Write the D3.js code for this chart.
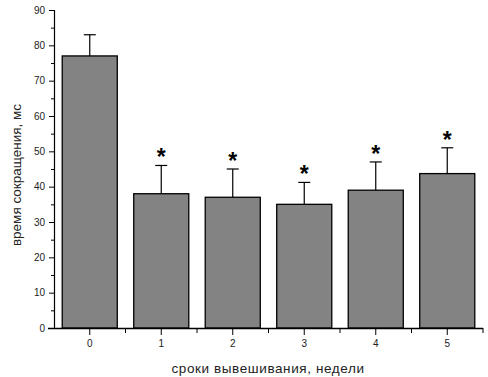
<!DOCTYPE html>
<html><head><meta charset="utf-8">
<script src="https://cdn.jsdelivr.net/npm/d3@7"></script>
<style>body{margin:0;background:#fff}svg{display:block}text{font-family:Arial,"Liberation Sans",sans-serif}</style>
</head><body><svg id="c" width="488" height="377"></svg>
<script>
const categories = ["0","1","2","3","4","5"];
const means = [77, 38, 37, 35, 39, 43.7];
const errors = [6, 8, 8, 6.2, 8, 7.3];
const significant = [false, true, true, true, true, true];
const yTicks = [0,10,20,30,40,50,60,70,80,90];
const yLabel = "время сокращения, мс";
const xLabel = "сроки вывешивания, недели";

const svg = d3.select("#c");
const x = d3.scaleBand().domain(categories).range([54, 483]).paddingInner(0.23).paddingOuter(0.115);
const y = d3.scaleLinear().domain([0, 90]).range([328, 10]);

// bars
svg.selectAll("rect.bar").data(means).join("rect")
  .attr("x", (d,i) => x(categories[i]))
  .attr("y", d => y(d))
  .attr("width", x.bandwidth())
  .attr("height", d => y(0) - y(d))
  .attr("fill", "#838383").attr("stroke", "#000").attr("stroke-width", 1.3);

// error bars
const cap = 12;
svg.selectAll("g.err").data(means).join("g").each(function(d,i){
  const cx = x(categories[i]) + x.bandwidth()/2;
  const g = d3.select(this);
  g.append("line").attr("x1", cx).attr("x2", cx).attr("y1", y(d)).attr("y2", y(d + errors[i])).attr("stroke","#000").attr("stroke-width",1.2);
  g.append("line").attr("x1", cx-cap/2).attr("x2", cx+cap/2).attr("y1", y(d + errors[i])).attr("y2", y(d + errors[i])).attr("stroke","#000").attr("stroke-width",1.2);
  if (significant[i]) g.append("text").attr("x", cx).attr("y", y(d + errors[i]) - 0).attr("text-anchor","middle")
     .attr("font-size", 23).attr("font-weight","bold").text("*");
});

// y axis
const yAxis = svg.append("g").attr("transform","translate(54,0)")
  .call(d3.axisLeft(y).tickValues(yTicks).tickSize(5).tickPadding(4).tickFormat(d3.format("d")));
yAxis.select(".domain").attr("stroke","#000").attr("stroke-width",1.2);
yAxis.selectAll(".tick text").attr("font-size",10).attr("fill","#222").attr("font-family","Arial, Liberation Sans, sans-serif");
svg.append("g").attr("transform","translate(54,0)")
  .call(d3.axisLeft(y).tickValues(d3.range(5, 90, 10)).tickSize(3).tickFormat(""))
  .select(".domain").remove();

// x axis
const xAxis = svg.append("g").attr("transform","translate(0,328)")
  .call(d3.axisBottom(x).tickSize(7).tickSizeOuter(0).tickPadding(5));
xAxis.select(".domain").attr("stroke","#000").attr("stroke-width",1.5).attr("d","M48,0.5H483");
xAxis.selectAll(".tick text").attr("font-size",10).attr("fill","#222").attr("font-family","Arial, Liberation Sans, sans-serif");
const step = x.step();
const bounds = categories.map((c,i) => x(c) + x.bandwidth()/2 + step/2);
svg.append("g").selectAll("line").data(bounds).join("line")
  .attr("x1", d=>d).attr("x2", d=>d).attr("y1", 328).attr("y2", 333).attr("stroke","#000");

// labels
svg.append("text").attr("transform","translate(21,175) rotate(-90)").attr("text-anchor","middle")
  .attr("font-size",13.5).attr("fill","#222").text(yLabel);
svg.append("text").attr("x",268).attr("y",373).attr("text-anchor","middle")
  .attr("font-size",13.5).attr("fill","#222").attr("letter-spacing","0.6").text(xLabel);
</script></body></html>
